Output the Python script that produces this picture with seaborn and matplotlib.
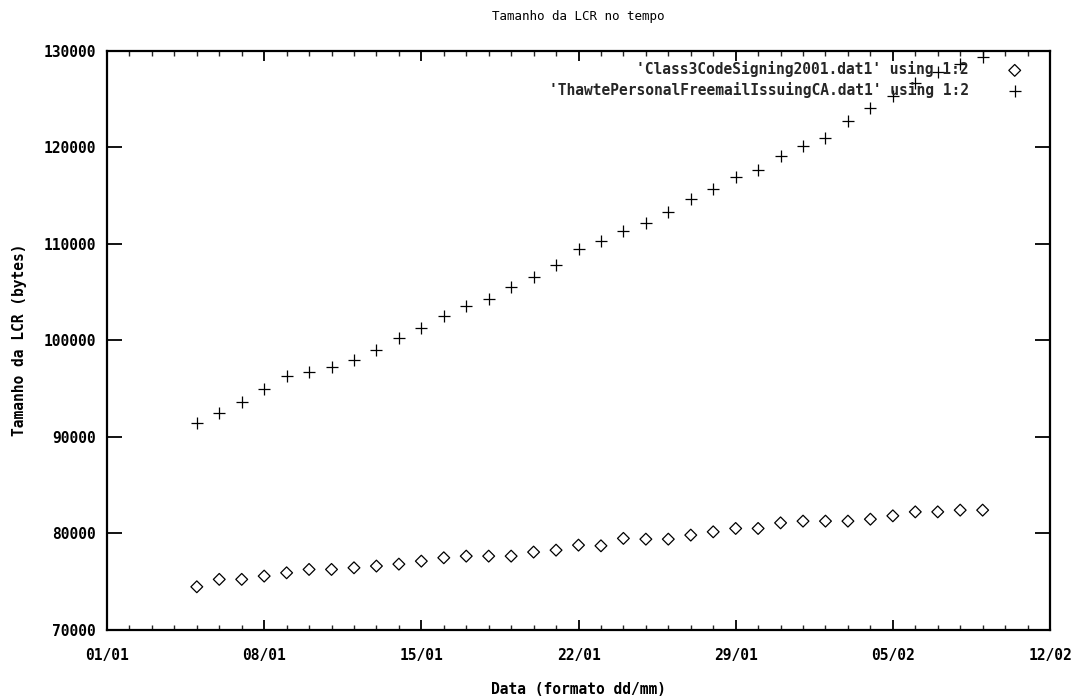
import matplotlib
matplotlib.use("Agg")
import matplotlib.pyplot as plt
import matplotlib.dates as mdates
from matplotlib.ticker import FixedLocator
import seaborn as sns
import pandas as pd

# ---- data ----
dates = pd.date_range("2004-01-05", "2004-02-09", freq="D")

class3_values = [74430, 75200, 75200, 75540, 75880, 76230, 76230, 76400, 76580,
                 76780, 77090, 77440, 77610, 77610, 77610, 78030, 78230, 78750,
                 78680, 79450, 79370, 79370, 79790, 80130, 80480, 80480, 81060,
                 81240, 81240, 81240, 81440, 81790, 82200, 82200, 82380, 82380]

thawte_values = [91420, 92450, 93560, 94940, 96330, 96700, 97260, 97910, 99020,
                 100270, 101300, 102540, 103580, 104330, 105500, 106610, 107830,
                 109440, 110340, 111380, 112210, 113270, 114690, 115700, 116900,
                 117700, 119150, 120150, 120940, 122700, 124040, 125300, 126700,
                 127800, 128600, 129330]

label_class3 = "'Class3CodeSigning2001.dat1' using 1:2"
label_thawte = "'ThawtePersonalFreemailIssuingCA.dat1' using 1:2"

x_ticks = pd.date_range("2004-01-01", "2004-02-12", freq="7D")
x_tick_labels = [d.strftime("%d/%m") for d in x_ticks]
y_ticks = [70000, 80000, 90000, 100000, 110000, 120000, 130000]

title = "Tamanho da LCR no tempo"
xlabel = "Data (formato dd/mm)"
ylabel = "Tamanho da LCR (bytes)"

# ---- plot ----
sns.set_theme(style="white")
plt.rcParams["font.family"] = ["DejaVu Sans Mono", "DejaVu Sans"]

fig = plt.figure(figsize=(10.81, 6.99), dpi=100)
ax = fig.add_axes([107 / 1081, 1 - 629.5 / 699, (1050 - 107) / 1081, (629.5 - 51) / 699])

df1 = pd.DataFrame({"date": dates, "value": class3_values})
df2 = pd.DataFrame({"date": dates, "value": thawte_values})

sns.scatterplot(data=df1, x="date", y="value", ax=ax, marker="D", s=36,
                facecolors="none", edgecolor="black", linewidth=0.9,
                label=label_class3)
sns.scatterplot(data=df2, x="date", y="value", ax=ax, marker="+", s=70,
                color="black", linewidth=0.9, label=label_thawte)

ax.set_xlim(mdates.date2num(pd.Timestamp("2004-01-01")),
            mdates.date2num(pd.Timestamp("2004-02-12")))
ax.set_ylim(70000, 130000)

ax.xaxis.set_major_locator(FixedLocator(mdates.date2num(x_ticks)))
ax.set_xticklabels(x_tick_labels)
ax.xaxis.set_minor_locator(mdates.DayLocator())
ax.set_yticks(y_ticks)
ax.set_yticklabels([str(v) for v in y_ticks])

for sp in ax.spines.values():
    sp.set_visible(True)
    sp.set_color("black")
    sp.set_linewidth(1.6)

ax.tick_params(axis="x", which="major", direction="in", length=7, width=1.3,
               top=True, bottom=True, pad=13, labelsize=10.5, colors="black")
ax.tick_params(axis="x", which="minor", direction="in", length=3.5, width=1.0,
               top=True, bottom=True)
ax.tick_params(axis="y", which="major", direction="in", length=10.5, width=1.3,
               left=True, right=True, pad=8, labelsize=10.5, colors="black")
for lbl in ax.get_xticklabels() + ax.get_yticklabels():
    lbl.set_fontweight("bold")

ax.set_title(title, fontsize=9, pad=22, color="black")
ax.set_xlabel(xlabel, fontsize=10.5, fontweight="bold", labelpad=14, color="black")
ax.set_ylabel(ylabel, fontsize=10.5, fontweight="bold", color="black")
ax.yaxis.set_label_coords(-0.085, 0.5)

leg = ax.legend(loc="upper right", frameon=False, markerfirst=False,
                prop={"family": "DejaVu Sans Mono", "weight": "bold", "size": 10.5},
                borderaxespad=0.3, handletextpad=2.4, labelspacing=0.35,
                handlelength=1.5, bbox_to_anchor=(0.985, 1.0))
for t in leg.get_texts():
    t.set_ha("right")

fig.savefig("out.png", dpi=100, facecolor="white")
